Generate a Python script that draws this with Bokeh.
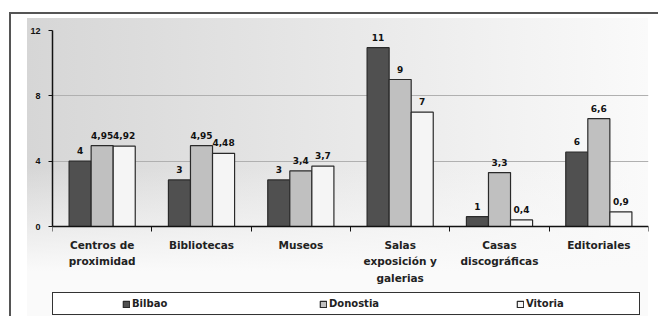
from bokeh.plotting import figure
from bokeh.models import (ColumnDataSource, Range1d, FixedTicker, LabelSet, Legend,
                          LegendItem)
from bokeh.transform import dodge
from bokeh.core.properties import value
from bokeh.embed import file_html
from bokeh.resources import INLINE

# ---- data ----
categories = ["Centros de\nproximidad", "Bibliotecas", "Museos",
              "Salas\nexposición y\ngalerias", "Casas\ndiscográficas", "Editoriales"]
series = ["Bilbao", "Donostia", "Vitoria"]
bilbao = [4.0, 2.85, 2.85, 10.95, 0.6, 4.55]
donostia = [4.95, 4.95, 3.4, 9.0, 3.3, 6.6]
vitoria = [4.92, 4.48, 3.7, 7.0, 0.4, 0.9]
bilbao_labels = ["4", "3", "3", "11", "1", "6"]
donostia_labels = ["4,95", "4,95", "3,4", "9", "3,3", "6,6"]
vitoria_labels = ["4,92", "4,48", "3,7", "7", "0,4", "0,9"]
y_ticks = [0, 4, 8, 12]
y_max = 12

centers = [i + 0.5 for i in range(len(categories))]
bounds = list(range(len(categories) + 1))

source = ColumnDataSource(dict(
    x=centers,
    Bilbao=bilbao, Donostia=donostia, Vitoria=vitoria,
    Bilbao_l=bilbao_labels, Donostia_l=donostia_labels, Vitoria_l=vitoria_labels,
))

fills = {"Bilbao": "#505050", "Donostia": "#c0c0c0", "Vitoria": "#f5f5f5"}
offsets = {"Bilbao": -0.222, "Donostia": 0.0, "Vitoria": 0.222}

# layout: value axis spans 196 px for 0..12, plus 90 px below zero for labels + legend
axis_px, below_px = 196, 90
y_low = -y_max * below_px / axis_px

p = figure(width=658, height=316, x_range=Range1d(0, 6), y_range=Range1d(y_low, y_max),
           output_backend="svg", toolbar_location=None,
           min_border_left=52, min_border_right=10, min_border_top=30, min_border_bottom=0)
p.background_fill_color = None
p.background_fill_alpha = 0
p.border_fill_color = None
p.border_fill_alpha = 0
p.outline_line_color = None

p.styles = {"background": ", ".join([
    "linear-gradient(#555555,#555555) 9px 12px / 649px 2px no-repeat",
    "linear-gradient(#555555,#555555) 9px 12px / 2px 304px no-repeat",
    "linear-gradient(to bottom, rgba(250,250,250,0) 0%, rgba(250,250,250,0) 50%, rgba(250,250,250,1) 85%) 27px 18px / 621px 298px no-repeat",
    "linear-gradient(to right, #d6d6d6 0%, #e6e6e6 45%, #fafafa 100%) 27px 18px / 621px 298px no-repeat",
    "#ffffff",
])}

# grid
p.xgrid.grid_line_color = None
p.ygrid.grid_line_color = "#b0b0b0"
p.ygrid.grid_line_width = 1

# y axis
p.yaxis.ticker = FixedTicker(ticks=y_ticks)
p.yaxis.bounds = (0, y_max)
p.yaxis.minor_tick_line_color = None
p.yaxis.major_tick_out = 4
p.yaxis.major_tick_in = 0
p.yaxis.major_tick_line_color = "#111111"
p.yaxis.axis_line_color = "#111111"
p.yaxis.axis_line_width = 1.5
p.yaxis.major_label_standoff = 8
p.yaxis.major_label_text_font = "Liberation Sans"
p.yaxis.major_label_text_font_style = "bold"
p.yaxis.major_label_text_font_size = "9px"
p.yaxis.major_label_text_color = "#111111"

# x axis (sits at y = 0)
p.xaxis.fixed_location = 0
p.xaxis.ticker = FixedTicker(ticks=centers, minor_ticks=bounds)
p.xaxis.major_label_overrides = {c: n for c, n in zip(centers, categories)}
p.xaxis.major_tick_line_color = None
p.xaxis.minor_tick_line_color = "#111111"
p.xaxis.minor_tick_out = 5
p.xaxis.minor_tick_in = 0
p.xaxis.axis_line_color = "#111111"
p.xaxis.axis_line_width = 1.5
p.xaxis.major_label_standoff = 6
p.xaxis.major_label_text_font = "DejaVu Sans"
p.xaxis.major_label_text_font_style = "bold"
p.xaxis.major_label_text_font_size = "10.5px"
p.xaxis.major_label_text_line_height = 1.4
p.xaxis.major_label_text_color = "#222222"

renderers = {}
for s in series:
    r = p.vbar(x=dodge("x", offsets[s]), top=s, width=0.222, source=source,
               fill_color=fills[s], line_color="#2a2a2a", line_width=1.2)
    renderers[s] = r
    p.add_layout(LabelSet(x=dodge("x", offsets[s]), y=s, text=s + "_l", source=source,
                          text_align="center", text_baseline="alphabetic", y_offset=7,
                          text_font=value("DejaVu Sans"), text_font_style="bold",
                          text_font_size="9px", text_color="#111111"))

legend = Legend(items=[LegendItem(label=s, renderers=[renderers[s]]) for s in series],
                orientation="horizontal", location=(0, 1),
                title=" ", title_location="left", title_standoff=53,
                title_text_font_size="10px",
                border_line_color="#333333", border_line_width=1.5, border_line_alpha=1,
                background_fill_color="#ffffff", background_fill_alpha=1,
                glyph_width=8, glyph_height=8, label_standoff=2,
                label_width=108, spacing=79, padding=5, margin=0,
                label_text_font="DejaVu Sans", label_text_font_style="bold",
                label_text_font_size="10px", label_text_color="#222222")
p.add_layout(legend)

open("out.html", "w").write(file_html(p, INLINE))
